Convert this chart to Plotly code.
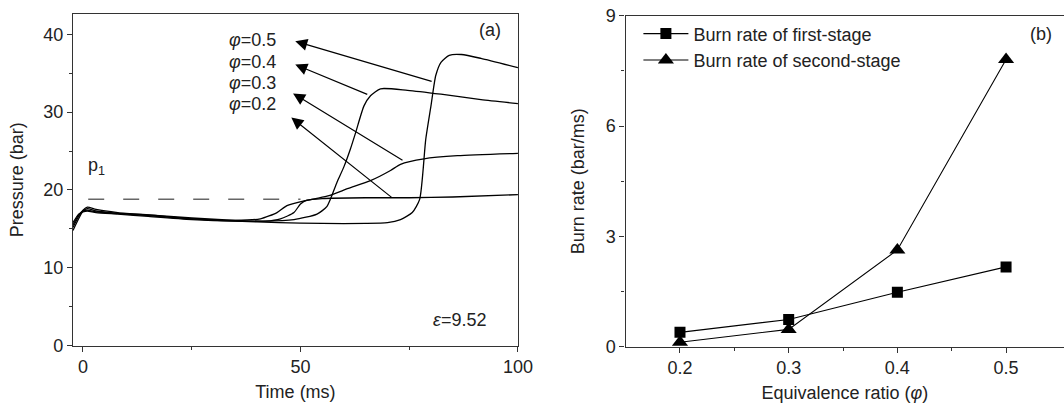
import plotly.graph_objects as go

# ---------------- Panel (a): pressure traces ----------------
t_05 = [-2.3, -1, 0, 1, 3, 8, 15, 25, 35, 45, 55, 65, 70, 73, 75.7, 77.4, 78.8, 80, 81.1, 82.3, 84.2, 87, 91.5, 100]
p_05 = [14.8, 16.3, 17.3, 17.6, 17.3, 17.0, 16.8, 16.3, 16.0, 15.8, 15.7, 15.7, 15.8, 16.2, 17.1, 18.8, 26.5, 30.8, 34.7, 36.4, 37.3, 37.4, 36.9, 35.7]

t_04 = [-2.3, -1, 0, 1, 3, 8, 15, 25, 35, 42, 48.5, 53.8, 56.1, 58.4, 60, 61.5, 62.7, 64.6, 66.1, 68.4, 74.6, 82.3, 91.5, 100]
p_04 = [15.2, 16.6, 17.4, 17.8, 17.5, 17.1, 16.8, 16.4, 16.1, 16.0, 16.2, 16.9, 17.9, 21.0, 23.0, 25.3, 27.4, 30.8, 32.1, 33.0, 32.8, 32.3, 31.6, 31.1]

t_03 = [-2.3, -1, 0, 1, 3, 8, 15, 25, 35, 40.8, 44.6, 46.9, 50.8, 56.1, 61, 66.1, 70.7, 73, 78.4, 86.1, 100]
p_03 = [15.5, 16.8, 17.3, 17.4, 17.2, 17.0, 16.7, 16.3, 16.1, 16.3, 17.1, 18.0, 18.6, 19.2, 20.2, 21.2, 22.5, 23.3, 24.0, 24.4, 24.7]

t_02 = [-2.3, -1, 0, 1, 3, 8, 15, 25, 35, 42, 45.4, 48.5, 50, 51.5, 55, 65, 75, 85, 100]
p_02 = [15.8, 16.9, 17.2, 17.3, 17.1, 16.9, 16.6, 16.2, 16.0, 16.0, 16.3, 17.1, 18.2, 18.7, 18.9, 19.0, 19.0, 19.1, 19.4]

p1_level = 18.8
p1_span = [1.2, 50]

phi_labels = ["φ=0.5", "φ=0.4", "φ=0.3", "φ=0.2"]
# arrow heads (near labels) and tails (on curves), data units
arrow_head_t = [48.8, 48.8, 48.3, 47.9]
arrow_head_p = [39.1, 36.1, 32.4, 29.3]
arrow_tail_t = [80.5, 65.7, 73.8, 71.3]
arrow_tail_p = [33.9, 32.2, 23.7, 18.9]
label_p = [39.3, 36.5, 33.7, 31.0]

# ---------------- Panel (b): burn rates ----------------
phi = [0.2, 0.3, 0.4, 0.5]
rate_first = [0.39, 0.74, 1.48, 2.17]
rate_second = [0.12, 0.47, 2.63, 7.81]

FONT = "Arial, Liberation Sans, sans-serif"
FS = 18
AX = "#333333"

fig = go.Figure()

line_kw = dict(color="black", width=1.3, shape="spline", smoothing=0.6)
for tt, pp in [(t_02, p_02), (t_03, p_03), (t_04, p_04), (t_05, p_05)]:
    fig.add_trace(go.Scatter(x=tt, y=pp, mode="lines", line=line_kw,
                             showlegend=False, xaxis="x", yaxis="y", hoverinfo="skip"))

fig.add_trace(go.Scatter(x=p1_span, y=[p1_level, p1_level], mode="lines",
                         line=dict(color="#666666", width=1.5, dash="16px,19px"),
                         showlegend=False, xaxis="x", yaxis="y"))

fig.add_trace(go.Scatter(x=phi, y=rate_first, mode="lines+markers", name="Burn rate of first-stage",
                         line=dict(color="black", width=1.1),
                         marker=dict(symbol="square", size=11, color="black"),
                         xaxis="x2", yaxis="y2"))
fig.add_trace(go.Scatter(x=phi, y=rate_second, mode="lines+markers", name="Burn rate of second-stage",
                         line=dict(color="black", width=1.1),
                         marker=dict(symbol="triangle-up", size=14, color="black"),
                         xaxis="x2", yaxis="y2"))

annotations = []
for lab, hx, hy, tx, ty, ly in zip(phi_labels, arrow_head_t, arrow_head_p, arrow_tail_t, arrow_tail_p, label_p):
    annotations.append(dict(x=hx, y=hy, ax=tx, ay=ty, xref="x", yref="y", axref="x", ayref="y",
                            text="", showarrow=True, arrowhead=2, arrowsize=2.0, arrowwidth=1.2,
                            arrowcolor="black", standoff=0, startstandoff=0))
    val = lab.split("=")[1]
    annotations.append(dict(x=44.8, y=ly, xref="x", yref="y", xanchor="right", yanchor="middle",
                            text="<i>φ</i>=" + val, showarrow=False,
                            font=dict(family=FONT, size=FS, color="#222")))

annotations += [
    dict(x=3.2, y=23.0, xref="x", yref="y", text="p<sub>1</sub>", showarrow=False,
         xanchor="center", yanchor="middle", font=dict(family=FONT, size=FS, color="#222")),
    dict(x=93.5, y=40.6, xref="x", yref="y", text="(a)", showarrow=False,
         xanchor="center", yanchor="middle", font=dict(family=FONT, size=FS, color="#222")),
    dict(x=86.5, y=3.3, xref="x", yref="y", text="<i>ε</i>=9.52", showarrow=False,
         xanchor="center", yanchor="middle", font=dict(family=FONT, size=FS, color="#222")),
    dict(x=0.5325, y=8.5, xref="x2", yref="y2", text="(b)", showarrow=False,
         xanchor="center", yanchor="middle", font=dict(family=FONT, size=FS, color="#222")),
]

tickfont = dict(family=FONT, size=FS, color="#222")
titlefont = dict(family=FONT, size=FS, color="#222")
common = dict(showgrid=False, zeroline=False, showline=True, linecolor=AX, linewidth=1.3,
              ticks="outside", ticklen=5, tickwidth=1.2, tickcolor=AX, tickfont=tickfont,
              automargin=False)

fig.update_layout(
    width=1064, height=405,
    margin=dict(l=0, r=0, t=0, b=0),
    paper_bgcolor="white", plot_bgcolor="white",
    font=dict(family=FONT, size=FS, color="#222"),
    xaxis=dict(domain=[0.0686, 0.4868], range=[-2.3, 100], anchor="y", mirror=True,
               tickvals=[0, 50, 100], minor=dict(tickvals=[25, 75], ticklen=3, ticks="outside", tickcolor=AX),
               title=dict(text="Time (ms)", font=titlefont, standoff=8), **common),
    yaxis=dict(domain=[0.1464, 0.9654], range=[0, 42.6], anchor="x", mirror=True,
               tickvals=[0, 10, 20, 30, 40], minor=dict(tickvals=[5, 15, 25, 35], ticklen=3, ticks="outside", tickcolor=AX),
               title=dict(text="Pressure (bar)", font=titlefont, standoff=14), **common),
    xaxis2=dict(domain=[0.588, 1.0], range=[0.15, 0.5533], anchor="y2", mirror=True,
                tickvals=[0.2, 0.3, 0.4, 0.5], ticktext=["0.2", "0.3", "0.4", "0.5"],
                minor=dict(tickvals=[0.25, 0.35, 0.45], ticklen=3, ticks="outside", tickcolor=AX),
                title=dict(text="Equivalence ratio (<i>φ</i>)", font=titlefont, standoff=8), **common),
    yaxis2=dict(domain=[0.144, 0.9612], range=[0, 9], anchor="x2", mirror=False,
                tickvals=[0, 3, 6, 9], minor=dict(tickvals=[1.5, 4.5, 7.5], ticklen=3, ticks="outside", tickcolor=AX),
                title=dict(text="Burn rate (bar/ms)", font=titlefont, standoff=16), **common),
    legend=dict(x=0.600, y=0.962, xanchor="left", yanchor="top", bgcolor="rgba(0,0,0,0)",
                font=dict(family=FONT, size=FS, color="#222"), itemwidth=45, tracegroupgap=0),
    annotations=annotations,
)

fig.write_html("out.html")
